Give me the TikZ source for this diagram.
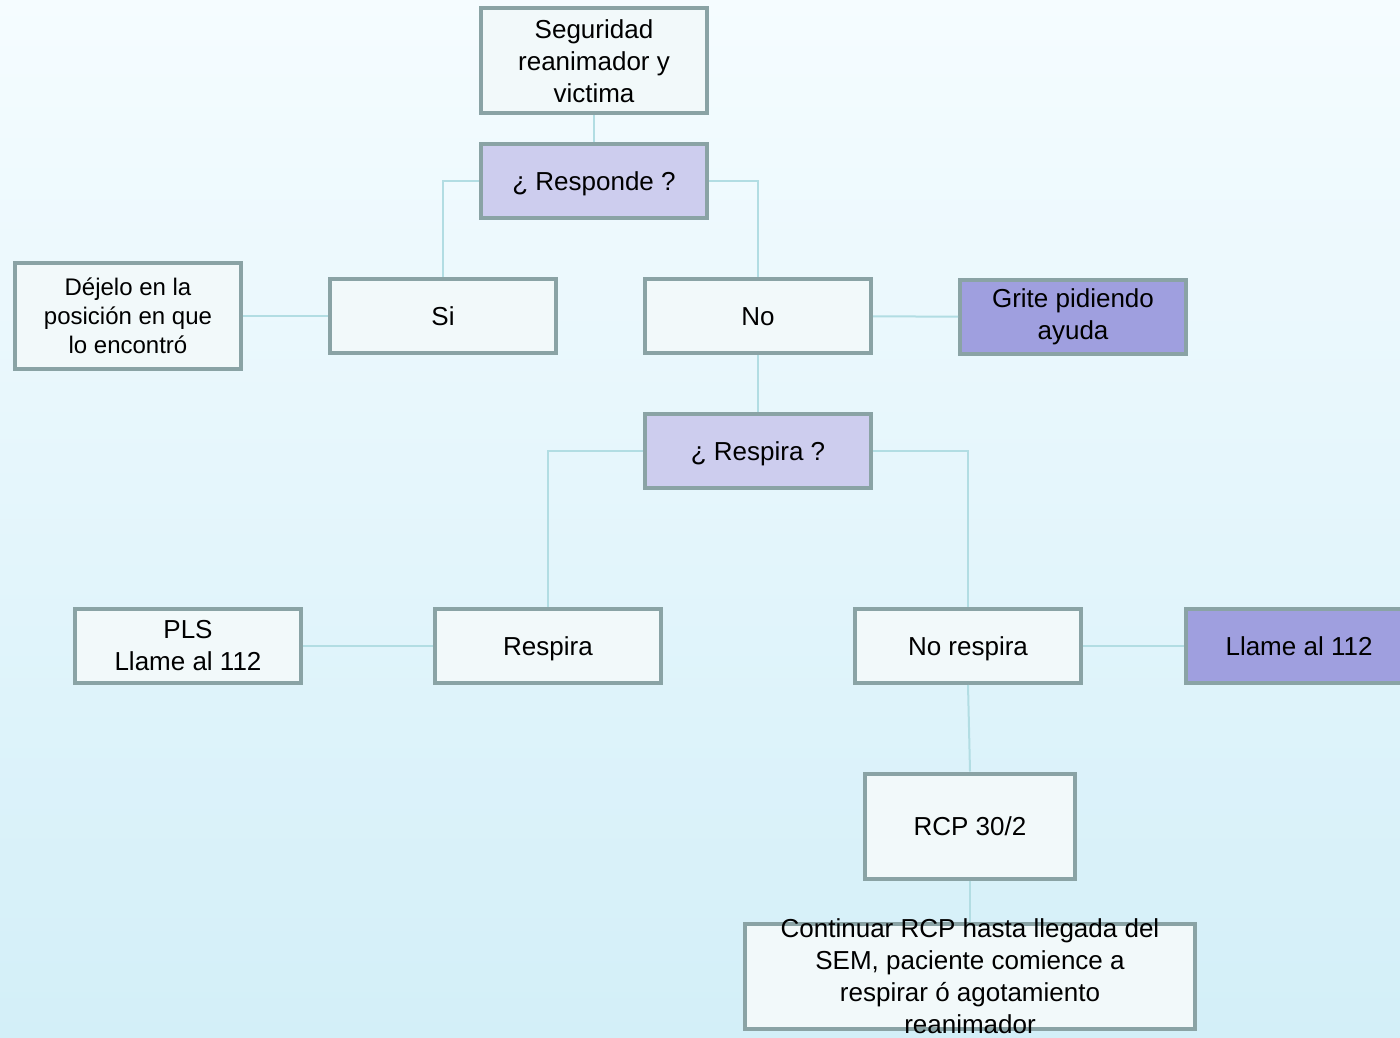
\documentclass[tikz,border=0pt]{standalone}
\usepackage{fontspec}
\setmainfont{Liberation Sans}
\usetikzlibrary{positioning}
\definecolor{boxline}{HTML}{8AA3A5}
\definecolor{boxfill}{HTML}{F2F9FA}
\definecolor{askfill}{HTML}{CDCDEE}
\definecolor{callfill}{HTML}{9F9FDF}
\definecolor{linkcol}{HTML}{B2DDE3}
\definecolor{bgtop}{HTML}{F5FCFF}
\definecolor{bgbottom}{HTML}{D3EFF8}
\begin{document}
\begin{tikzpicture}[x=0.5pt,y=-0.5pt,
  box/.style={draw=boxline,line width=2pt,fill=boxfill,minimum width=113pt,minimum height=37pt,align=center,font=\fontsize{13}{16}\selectfont},
  single/.style={text height=12pt,text depth=2.6pt},
  ask/.style={box,single,fill=askfill},
  call/.style={box,fill=callfill},
  link/.style={linkcol,line width=1pt}]
  \shade[top color=bgtop,bottom color=bgbottom] (0,0) rectangle (1400,1037);
  \useasboundingbox (0,0) rectangle (1400,1037);
  \node[box,minimum height=52.5pt] (seg) at (594,61) {Seguridad\\reanimador y\\victima};
  \node[ask] (resp) at (594,181) {¿ Responde ?};
  \node[box,single] (si) at (443,316) {Si};
  \node[box,single] (no) at (758,316) {No};
  \node[box,minimum height=52.5pt,font=\fontsize{12}{14.5}\selectfont] (dejelo) at (128,316) {Déjelo en la\\posición en que\\lo encontró};
  \node[call] (grite) at (1073,317) {Grite pidiendo\\ayuda};
  \node[ask] (resp2) at (758,451) {¿ Respira ?};
  \node[box,single] (respira) at (548,646) {Respira};
  \node[box] (pls) at (188,646) {PLS\\Llame al 112};
  \node[box,single] (nores) at (968,646) {No respira};
  \node[call,single] (llame) at (1299,646) {Llame al 112};
  \node[box,single,minimum width=105pt,minimum height=52.5pt] (rcp) at (970,826) {RCP 30/2};
  \node[box,minimum width=225pt,minimum height=52.5pt,inner ysep=-4.5pt] (cont) at (970,976) {Continuar RCP hasta llegada del\\SEM, paciente comience a\\respirar ó agotamiento\\reanimador};
  \draw[link](seg)--(resp);
  \draw[link](resp.west)-|(si.north);
  \draw[link](resp.east)-|(no.north);
  \draw[link](si)--(dejelo);
  \draw[link](no)--(grite);
  \draw[link](no)--(resp2);
  \draw[link](resp2.west)-|(respira.north);
  \draw[link](resp2.east)-|(nores.north);
  \draw[link](respira)--(pls);
  \draw[link](nores)--(llame);
  \draw[link](nores.south)--(rcp.north);
  \draw[link](rcp)--(cont);
\end{tikzpicture}
\end{document}
